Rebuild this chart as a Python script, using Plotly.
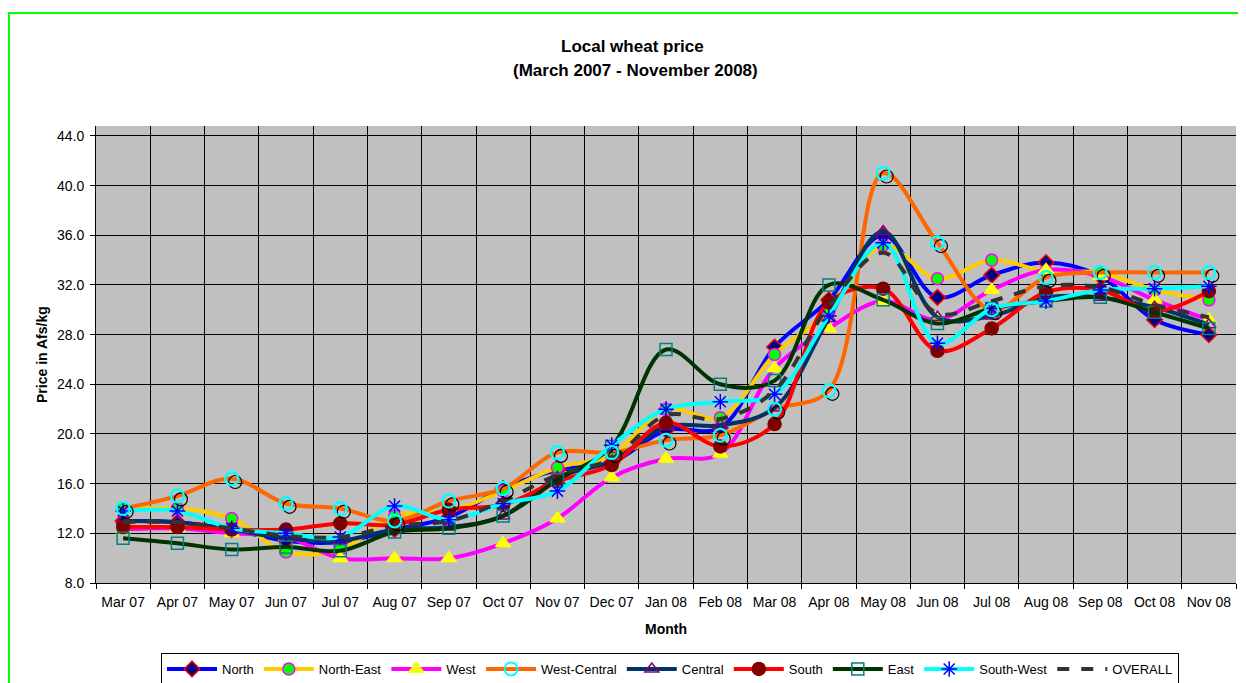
import plotly.graph_objects as go

months = ["Mar 07", "Apr 07", "May 07", "Jun 07", "Jul 07", "Aug 07", "Sep 07", "Oct 07",
          "Nov 07", "Dec 07", "Jan 08", "Feb 08", "Mar 08", "Apr 08", "May 08", "Jun 08",
          "Jul 08", "Aug 08", "Sep 08", "Oct 08", "Nov 08"]

north = [13.0, 12.9, 12.3, 11.4, 11.3, 12.3, 13.3, 15.6, 17.1, 17.7, 20.3, 20.5, 27.0,
         30.8, 36.0, 31.0, 32.8, 33.8, 32.7, 29.2, 28.0]
north_east = [14.0, 14.0, 13.2, 10.5, 10.7, 13.4, 13.8, 15.4, 17.3, 18.3, 22.0, 21.3, 26.4,
              29.8, 35.2, 32.5, 34.0, 33.1, 33.0, 31.6, 30.8]
west = [12.3, 12.4, 12.0, 11.7, 10.0, 10.0, 10.0, 11.2, 13.2, 16.5, 18.0, 18.4, 25.3,
        28.5, 30.7, 29.2, 31.6, 33.2, 32.7, 30.8, 29.2]
west_central = [14.0, 15.0, 16.4, 14.4, 14.0, 13.0, 14.6, 15.6, 18.5, 18.5, 19.5, 19.9, 22.0,
                23.5, 41.0, 35.4, 30.0, 32.6, 33.0, 33.0, 33.0]
central = [13.0, 12.9, 12.3, 11.6, 11.4, 12.3, 12.5, 13.4, 16.5, 17.8, 20.6, 20.7, 22.1,
           29.3, 36.3, 29.4, 29.5, 31.0, 31.0, 30.2, 28.8]
south = [12.5, 12.5, 12.3, 12.3, 12.8, 12.7, 13.9, 14.3, 16.2, 17.5, 20.9, 19.0, 20.8,
         30.6, 31.7, 26.7, 28.5, 31.4, 31.6, 29.9, 31.5]
east = [11.6, 11.2, 10.7, 10.9, 10.6, 12.1, 12.4, 13.4, 16.3, 19.0, 26.8, 24.0, 24.3,
        32.0, 30.8, 28.9, 30.1, 30.7, 31.0, 29.8, 28.5]
south_west = [13.8, 13.8, 12.4, 12.0, 11.7, 14.2, 13.1, 14.4, 15.4, 19.1, 22.0, 22.6, 23.2,
              29.5, 35.4, 27.3, 30.1, 30.7, 31.6, 31.7, 31.9]
overall = [12.9, 12.9, 12.4, 11.8, 11.7, 12.6, 13.0, 14.6, 16.7, 18.0, 21.5, 21.2, 23.5,
           30.3, 34.6, 29.7, 30.7, 31.9, 31.8, 30.4, 29.4]

y_ticks = [8.0, 12.0, 16.0, 20.0, 24.0, 28.0, 32.0, 36.0, 40.0, 44.0]

FONT = "Liberation Sans, Arial, sans-serif"

fig = go.Figure()


def add(name, data, lcolor, symbol=None, mcolor=None, mline=None, size=12, mlw=1.5, dash="solid"):
    marker = dict(symbol=symbol, color=mcolor, size=size,
                  line=dict(color=mline if mline else mcolor, width=mlw)) if symbol else None
    fig.add_trace(go.Scatter(
        x=months, y=data, name=name,
        mode="lines+markers" if symbol else "lines",
        line=dict(color=lcolor, width=4, shape="spline", smoothing=1.0, dash=dash),
        marker=marker,
    ))


add("North", north, "#0000FF", "diamond", "#000080", "#FF0000", 12)
add("North-East", north_east, "#FFCC00", "circle", "#00FF00", "#FF00FF", 12)
add("West", west, "#FF00FF", "triangle-up", "#FFFF00", "#FFFF00", 13)
add("West-Central", west_central, "#FF6600", "circle-open", "#00FFFF", None, 13, 2)
add("Central", central, "#003366", "triangle-up-open", "#800080", None, 12, 1.5)
add("South", south, "#FF0000", "circle", "#800000", "#800000", 13)
add("East", east, "#003300", "square-open", "#008080", None, 12, 1.5)
add("South-West", south_west, "#00FFFF", "asterisk-open", "#0000FF", None, 13, 1.5)
add("OVERALL", overall, "#333333", dash="dash")

# marker shadows for West-Central (offset overlay axes)
fig.add_trace(go.Scatter(
    x=months, y=west_central, xaxis="x2", yaxis="y2", mode="markers", showlegend=False,
    hoverinfo="skip",
    marker=dict(symbol="circle-open", color="#000000", size=13, line=dict(width=1.2)),
))
fig.add_trace(go.Scatter(
    x=months, y=west_central, xaxis="x3", yaxis="y3", mode="markers", showlegend=False,
    hoverinfo="skip",
    marker=dict(symbol="circle-open", color="#00FFFF", size=13, line=dict(width=2)),
))

# page body adds an 8px offset; plot area in the photo: x 96..1236, y 126..583
OFF = 8
PL, PR, PT, PB = 96, 1236, 126, 583
L, T = PL - OFF, PT - OFF
R = 1246 - (PR - OFF)
B = 683 - (PB - OFF)
W, H = PR - PL, PB - PT
ymin, ymax = 8.0, 44.8
dx = 3.5 / (W / 21.0)
dy = 3.3 / (H / (ymax - ymin))


def px(x):
    return (x - PL) / W


def py(y):
    return (PB - y) / H


fig.update_layout(
    width=1246, height=683,
    margin=dict(l=L, r=R, t=T, b=B, autoexpand=False),
    paper_bgcolor="white",
    plot_bgcolor="#C0C0C0",
    font=dict(family=FONT, size=14, color="black"),
    showlegend=True,
    legend=dict(orientation="h", x=px(670), xanchor="center", y=py(653), yanchor="top",
                bordercolor="black", borderwidth=1, bgcolor="white",
                font=dict(size=13, family=FONT), itemwidth=50, tracegroupgap=0),
    xaxis=dict(type="category", categoryorder="array", categoryarray=months,
               range=[-0.5, 20.5], tickson="boundaries", ticks="outside", ticklen=5,
               tickcolor="black", showgrid=True, gridcolor="black", gridwidth=1,
               showline=True, linecolor="black", linewidth=1, zeroline=False,
               tickangle=0, tickfont=dict(size=14), ticklabelstandoff=6),
    yaxis=dict(range=[ymin, ymax], tickvals=y_ticks, tickformat=".1f", ticks="outside",
               ticklen=5, tickcolor="black", showgrid=True, gridcolor="black", gridwidth=1,
               showline=True, linecolor="black", linewidth=1, zeroline=False,
               tickfont=dict(size=14), ticklabelstandoff=3),
    xaxis2=dict(type="category", categoryorder="array", categoryarray=months,
                overlaying="x", range=[-0.5 - dx, 20.5 - dx], visible=False),
    yaxis2=dict(overlaying="y", range=[ymin + dy, ymax + dy], visible=False),
    xaxis3=dict(type="category", categoryorder="array", categoryarray=months,
                overlaying="x", range=[-0.5, 20.5], visible=False),
    yaxis3=dict(overlaying="y", range=[ymin, ymax], visible=False),
    annotations=[
        dict(text="<b>Local wheat price</b>", xref="paper", yref="paper",
             x=px(632), y=py(47), showarrow=False,
             font=dict(size=17, family=FONT), xanchor="center", yanchor="middle"),
        dict(text="<b>(March 2007 - November 2008)</b>", xref="paper", yref="paper",
             x=px(635), y=py(70), showarrow=False,
             font=dict(size=17, family=FONT), xanchor="center", yanchor="middle"),
        dict(text="<b>Price in Afs/kg</b>", xref="paper", yref="paper",
             x=px(42), y=py(355), showarrow=False, textangle=-90,
             font=dict(size=14, family=FONT), xanchor="center", yanchor="middle"),
        dict(text="<b>Month</b>", xref="paper", yref="paper",
             x=px(666), y=py(629), showarrow=False,
             font=dict(size=14, family=FONT), xanchor="center", yanchor="middle"),
    ],
    shapes=[
        dict(type="rect", xref="paper", yref="paper",
             x0=px(9), x1=px(1270), y0=py(720), y1=py(13),
             line=dict(color="#00FF00", width=2), fillcolor="rgba(0,0,0,0)", layer="below"),
    ],
)

fig.write_html("out.html")
